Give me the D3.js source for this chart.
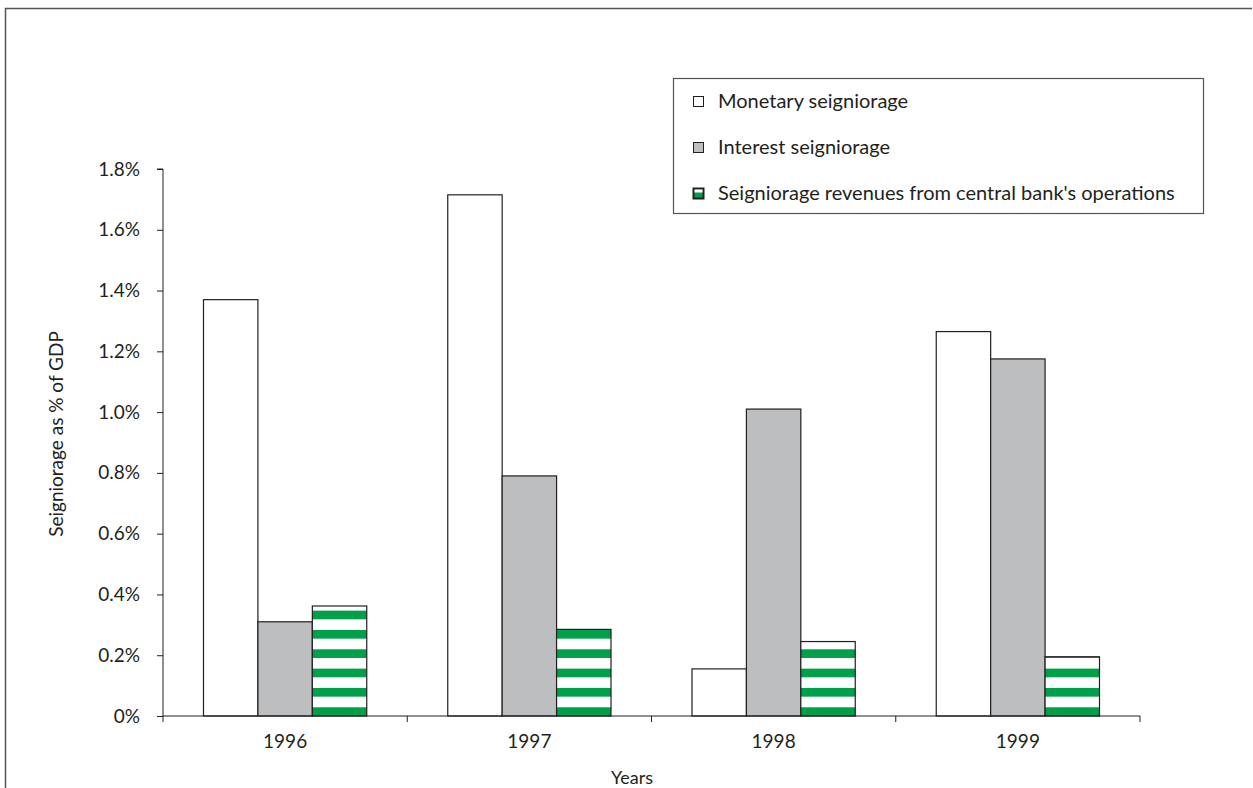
<!DOCTYPE html>
<html><head><meta charset="utf-8">
<script src="https://cdn.jsdelivr.net/npm/d3@7"></script>
<style>
html,body{margin:0;padding:0;background:#fff;}
text{font-family:"Lato","Open Sans",sans-serif;fill:#231f20;}
</style></head>
<body>
<svg id="chart" width="1253" height="788"></svg>
<script>
const years = ["1996","1997","1998","1999"];
const seriesNames = ["Monetary seigniorage","Interest seigniorage","Seigniorage revenues from central bank's operations"];
const monetary = [1.37, 1.715, 0.155, 1.265];
const interest = [0.31, 0.79, 1.01, 1.175];
const centralBank = [0.362, 0.285, 0.245, 0.195];
const yTicks = [0,0.2,0.4,0.6,0.8,1.0,1.2,1.4,1.6,1.8];

const svg = d3.select("#chart");
const plotLeft = 163, plotRight = 1140, plotTop = 169, plotBottom = 716;
const fs = "19px";

// outer frame
svg.append("path").attr("d","M5.5,790 V8.5 H1252").attr("fill","none").attr("stroke","#555").attr("stroke-width",1.5);

const defs = svg.append("defs");
const pat = defs.append("pattern").attr("id","stripes").attr("patternUnits","userSpaceOnUse")
  .attr("width",10).attr("height",19.33).attr("y", plotBottom - 19.33*37);
pat.append("rect").attr("width",10).attr("height",19.33).attr("fill","#fff");
pat.append("rect").attr("y",10.6).attr("width",10).attr("height",8.7).attr("fill","#00a04b");

const x = d3.scaleBand().domain(years).range([plotLeft,plotRight]).paddingInner(0).paddingOuter(0);
const inner = d3.scaleBand().domain([0,1,2]).range([40.5, x.bandwidth()-40.5]);
const y = d3.scaleLinear().domain([0,1.8]).range([plotBottom,plotTop]);

const fills = ["#ffffff","#bcbec0","url(#stripes)"];
const data = [monetary, interest, centralBank];

data.forEach((vals,si)=>{
  svg.append("g").selectAll("rect").data(vals).join("rect")
    .attr("x",(d,i)=>x(years[i])+inner(si))
    .attr("y",d=>y(d))
    .attr("width",inner.bandwidth())
    .attr("height",d=>plotBottom-y(d))
    .attr("fill",fills[si])
    .attr("stroke","#231f20").attr("stroke-width",1.2);
});

// y axis
const yAxis = d3.axisLeft(y).tickValues(yTicks).tickSize(6).tickPadding(17)
  .tickFormat(d=> d===0 ? "0%" : d3.format(".1f")(d)+"%");
const gy = svg.append("g").attr("transform",`translate(${plotLeft},0)`).call(yAxis);
gy.select(".domain").attr("stroke","#231f20").attr("d",`M-6,${plotTop}H0V${plotBottom}`);
gy.selectAll(".tick line").attr("stroke","#231f20");
gy.selectAll("text").style("font-size",fs).attr("fill","#231f20").attr("font-family","Lato, 'Open Sans', sans-serif");

// x axis
const gx = svg.append("g").attr("transform",`translate(0,${plotBottom})`);
gx.append("line").attr("x1",plotLeft).attr("x2",plotRight).attr("stroke","#231f20").attr("stroke-width",1.2);
const bounds = years.map(d=>x(d)).concat([plotRight]);
gx.selectAll(".tk").data(bounds).join("line").attr("x1",d=>d).attr("x2",d=>d).attr("y1",0).attr("y2",6).attr("stroke","#231f20");
gx.selectAll(".lbl").data(years).join("text").attr("x",d=>x(d)+x.bandwidth()/2).attr("y",32)
  .attr("text-anchor","middle").style("font-size",fs).text(d=>d);

svg.append("text").attr("x",632).attr("y",784).attr("text-anchor","middle").style("font-size","18px").text("Years");
svg.append("text").attr("transform","translate(63,434) rotate(-90)").attr("text-anchor","middle").style("font-size",fs).text("Seigniorage as % of GDP");

// legend
const lg = svg.append("g");
lg.append("rect").attr("x",673.5).attr("y",78.5).attr("width",530).attr("height",135).attr("fill","#fff").attr("stroke","#555").attr("stroke-width",1.2);
const legFills = ["#ffffff","#bcbec0","#00a04b"];
seriesNames.forEach((n,i)=>{
  const cy = 101 + i*46;
  lg.append("rect").attr("x",693.5).attr("y",cy-4.5).attr("width",10).attr("height",10).attr("fill",legFills[i]).attr("stroke","#231f20").attr("stroke-width",i===2?2:1);
  if(i===2) lg.append("rect").attr("x",694.5).attr("y",cy-3.5).attr("width",8).attr("height",3).attr("fill","#fff");
  lg.append("text").attr("x",718).attr("y",cy+7).style("font-size","20px").text(n);
});
</script>
</body></html>
